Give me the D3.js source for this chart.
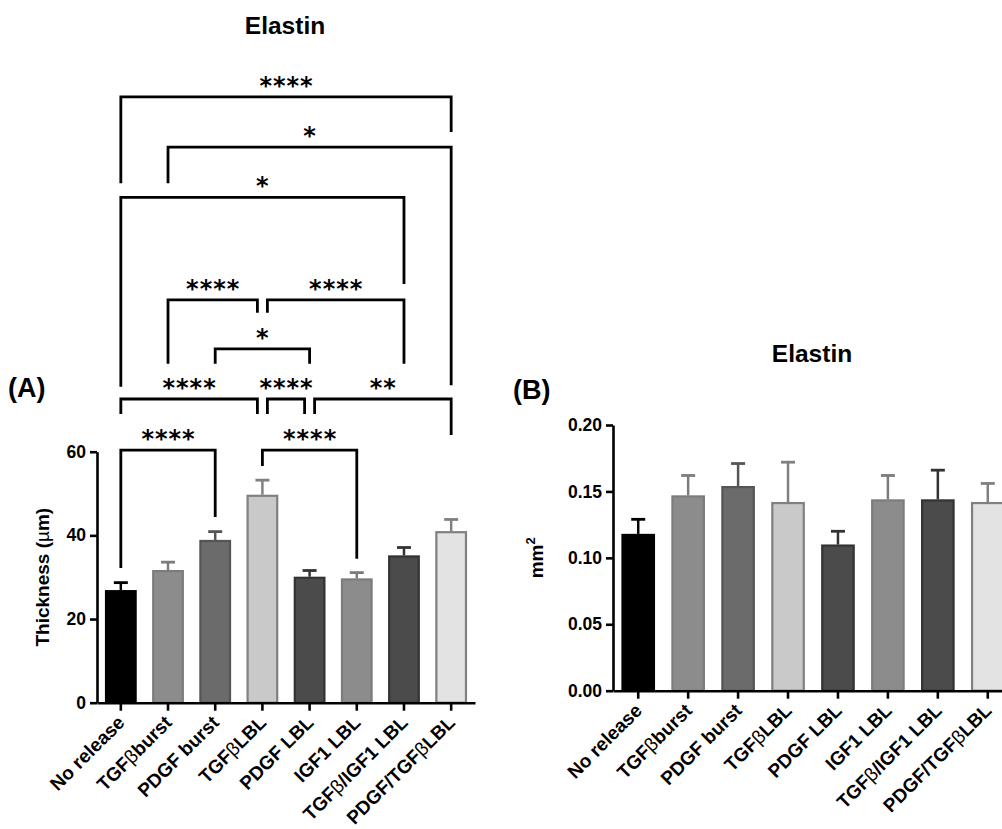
<!DOCTYPE html>
<html lang="en">
<head>
  <meta charset="UTF-8">
  <title>Elastin</title>
  <script src="https://d3js.org/d3.v7.min.js"></script>
  <style>
    body { margin: 0; background: #fff; }
    text { font-family: "Liberation Sans", Arial, sans-serif; font-weight: bold; fill: #000; }
  </style>
</head>
<body>
  <svg id="chart" width="1002" height="829"></svg>

  <script>
    // groups (β drawn in a lighter weight, like the symbol font of the original)
    const groups = ["No release", "TGFβburst", "PDGF burst", "TGFβLBL", "PDGF LBL", "IGF1 LBL", "TGFβ/IGF1 LBL", "PDGF/TGFβLBL"];

    // (A) thickness, µm : mean and SEM
    const thickMean = [26.9, 31.7, 38.9, 49.7, 30.1, 29.7, 35.2, 41.0];
    const thickSem  = [1.8, 1.9, 2.0, 3.5, 1.5, 1.4, 1.9, 2.8];
    const thickTicks = [0, 20, 40, 60];

    // (B) area, mm² : mean and SEM
    const areaMean = [0.118, 0.147, 0.154, 0.142, 0.110, 0.144, 0.144, 0.142];
    const areaSem  = [0.011, 0.015, 0.017, 0.030, 0.010, 0.018, 0.022, 0.014];
    const areaTicks = [0, 0.05, 0.10, 0.15, 0.20];

    // significance brackets for (A): from, to, label, bracket level, left leg end, right leg end (µm)
    const comparisons = [
      [0, 7, "****", 144.8, 124.2, 136.4],
      [1, 7, "*",    132.8, 124.2, 75.9],
      [0, 6, "*",    120.8, 75.5, 100.1],
      [1, 3, "****", 96.3, 81.0, 93.2],
      [3, 6, "****", 96.3, 93.2, 81.0],
      [2, 4, "*",    84.6, 81.0, 81.0],
      [0, 3, "****", 72.6, 69.0, 69.0],
      [3, 4, "****", 72.6, 69.0, 69.0],
      [4, 7, "**",   72.6, 69.0, 64.0],
      [0, 2, "****", 60.4, 32.2, 44.4],
      [3, 5, "****", 60.4, 56.6, 34.4]
    ];

    const fills = ["#000000", "#8c8c8c", "#6b6b6b", "#c9c9c9", "#4b4b4b", "#8c8c8c", "#4b4b4b", "#e3e3e3"];
    const edges = ["#000000", "#7c7c7c", "#555555", "#808080", "#333333", "#7c7c7c", "#333333", "#808080"];

    const svg = d3.select("#chart");

    function labelWithBeta(sel, str) {
      str.split(/(β)/).filter(s => s.length).forEach(part => {
        sel.append("tspan")
           .style("font-weight", part === "β" ? "normal" : "bold")
           .text(part);
      });
    }

    function drawPanel(o) {
      const g = svg.append("g");

      const x = d3.scaleBand()
                  .domain(groups)
                  .range([o.left, o.right])
                  .paddingInner(0.33)
                  .paddingOuter(0.17);

      const y = d3.scaleLinear()
                  .domain([0, o.max])
                  .range([o.bottom, o.top]);

      // bars
      g.selectAll("rect.bar")
       .data(o.mean)
       .enter().append("rect")
       .attr("class", "bar")
       .attr("x", (d, i) => x(groups[i]) + 1)
       .attr("y", d => y(d) + 1)
       .attr("width", x.bandwidth() - 2)
       .attr("height", d => y(0) - y(d) - 1)
       .attr("fill", (d, i) => fills[i])
       .attr("stroke", (d, i) => edges[i])
       .attr("stroke-width", 2.2);

      // error bars (upper only)
      const cap = 7;
      o.mean.forEach((m, i) => {
        const cx = x(groups[i]) + x.bandwidth() / 2;
        const yt = y(m + o.sem[i]);
        g.append("line")
         .attr("x1", cx).attr("x2", cx)
         .attr("y1", y(m)).attr("y2", yt)
         .attr("stroke", edges[i]).attr("stroke-width", 2.5);
        g.append("line")
         .attr("x1", cx - cap).attr("x2", cx + cap)
         .attr("y1", yt).attr("y2", yt)
         .attr("stroke", edges[i]).attr("stroke-width", 2.8);
      });

      // y axis
      const yAxis = g.append("g")
                     .attr("transform", `translate(${o.left},0)`)
                     .call(d3.axisLeft(y).tickValues(o.ticks).tickFormat(o.fmt)
                             .tickSize(7).tickSizeOuter(0).tickPadding(4));

      // x axis
      const xAxis = g.append("g")
                     .attr("transform", `translate(0,${o.bottom})`)
                     .call(d3.axisBottom(x).tickSize(8).tickSizeOuter(0).tickFormat(""));

      [yAxis, xAxis].forEach(a => {
        a.select(".domain").attr("stroke", "#000").attr("stroke-width", 2.6);
        a.selectAll(".tick line").attr("stroke", "#000").attr("stroke-width", 2.6);
      });
      yAxis.selectAll(".tick text")
           .style("font-size", "17.5px")
           .style("font-family", '"Liberation Sans", Arial, sans-serif')
           .style("font-weight", "bold")
           .attr("fill", "#000");

      // rotated group labels
      groups.forEach(name => {
        const cx = x(name) + x.bandwidth() / 2;
        const t = g.append("text")
                   .attr("transform", `translate(${cx + 5},${o.bottom + 21}) rotate(-45)`)
                   .attr("text-anchor", "end")
                   .style("font-size", "19px");
        labelWithBeta(t, name);
      });

      // y axis title
      const yt = g.append("text")
                  .attr("transform", `translate(${o.yLabelX},${(o.top + o.bottom) / 2}) rotate(-90)`)
                  .attr("text-anchor", "middle")
                  .style("font-size", "19px");
      o.yLabel(yt);

      // chart title
      g.append("text")
       .attr("x", o.titleX)
       .attr("y", o.titleY)
       .attr("text-anchor", "middle")
       .style("font-size", "24.5px")
       .text("Elastin");

      // panel letter
      g.append("text")
       .attr("x", o.letterX)
       .attr("y", o.letterY)
       .style("font-size", "27px")
       .text(o.letter);

      return { x, y, g };
    }

    // (A)
    const A = drawPanel({
      left: 97, right: 475, top: 451.7, bottom: 702.7, max: 60,
      mean: thickMean, sem: thickSem, ticks: thickTicks, fmt: d3.format("d"),
      yLabelX: 49, titleX: 285, titleY: 34, letterX: 8, letterY: 397, letter: "(A)",
      yLabel: t => {
        t.append("tspan").text("Thickness (");
        t.append("tspan").style("font-weight", "normal").text("µ");
        t.append("tspan").text("m)");
      }
    });

    // (B)
    drawPanel({
      left: 613, right: 1013, top: 425, bottom: 690.7, max: 0.2,
      mean: areaMean, sem: areaSem, ticks: areaTicks, fmt: d3.format(".2f"),
      yLabelX: 543, titleX: 812, titleY: 362, letterX: 513, letterY: 399, letter: "(B)",
      yLabel: t => {
        t.append("tspan").text("mm");
        t.append("tspan").attr("dy", "-0.6em").style("font-size", "13px").text("2");
      }
    });

    // significance brackets on (A)
    const center = i => A.x(groups[i]) + A.x.bandwidth() / 2;
    const nudge = 5;
    const spacing = 1;
    comparisons.forEach(([from, to, label, level, legL, legR]) => {
      // shift ends that share a bar with another bracket on the same level
      const shared = i => comparisons.some(c => c[3] === level &&
                         !(c[0] === from && c[1] === to) && (c[0] === i || c[1] === i));
      const x1 = center(from) + (shared(from) ? nudge : 0);
      const x2 = center(to) - (shared(to) ? nudge : 0);
      const yl = A.y(level);

      A.g.append("path")
         .attr("d", `M${x1},${A.y(legL)}V${yl}H${x2}V${A.y(legR)}`)
         .attr("fill", "none")
         .attr("stroke", "#000")
         .attr("stroke-width", 2.8);

      A.g.append("text")
         .attr("x", (x1 + x2) / 2 + spacing / 2)
         .attr("y", yl - 3)
         .attr("text-anchor", "middle")
         .style("font-family", '"DejaVu Sans", sans-serif')
         .style("font-size", "24px")
         .style("letter-spacing", spacing + "px")
         .text(label);
    });
  </script>
</body>
</html>
